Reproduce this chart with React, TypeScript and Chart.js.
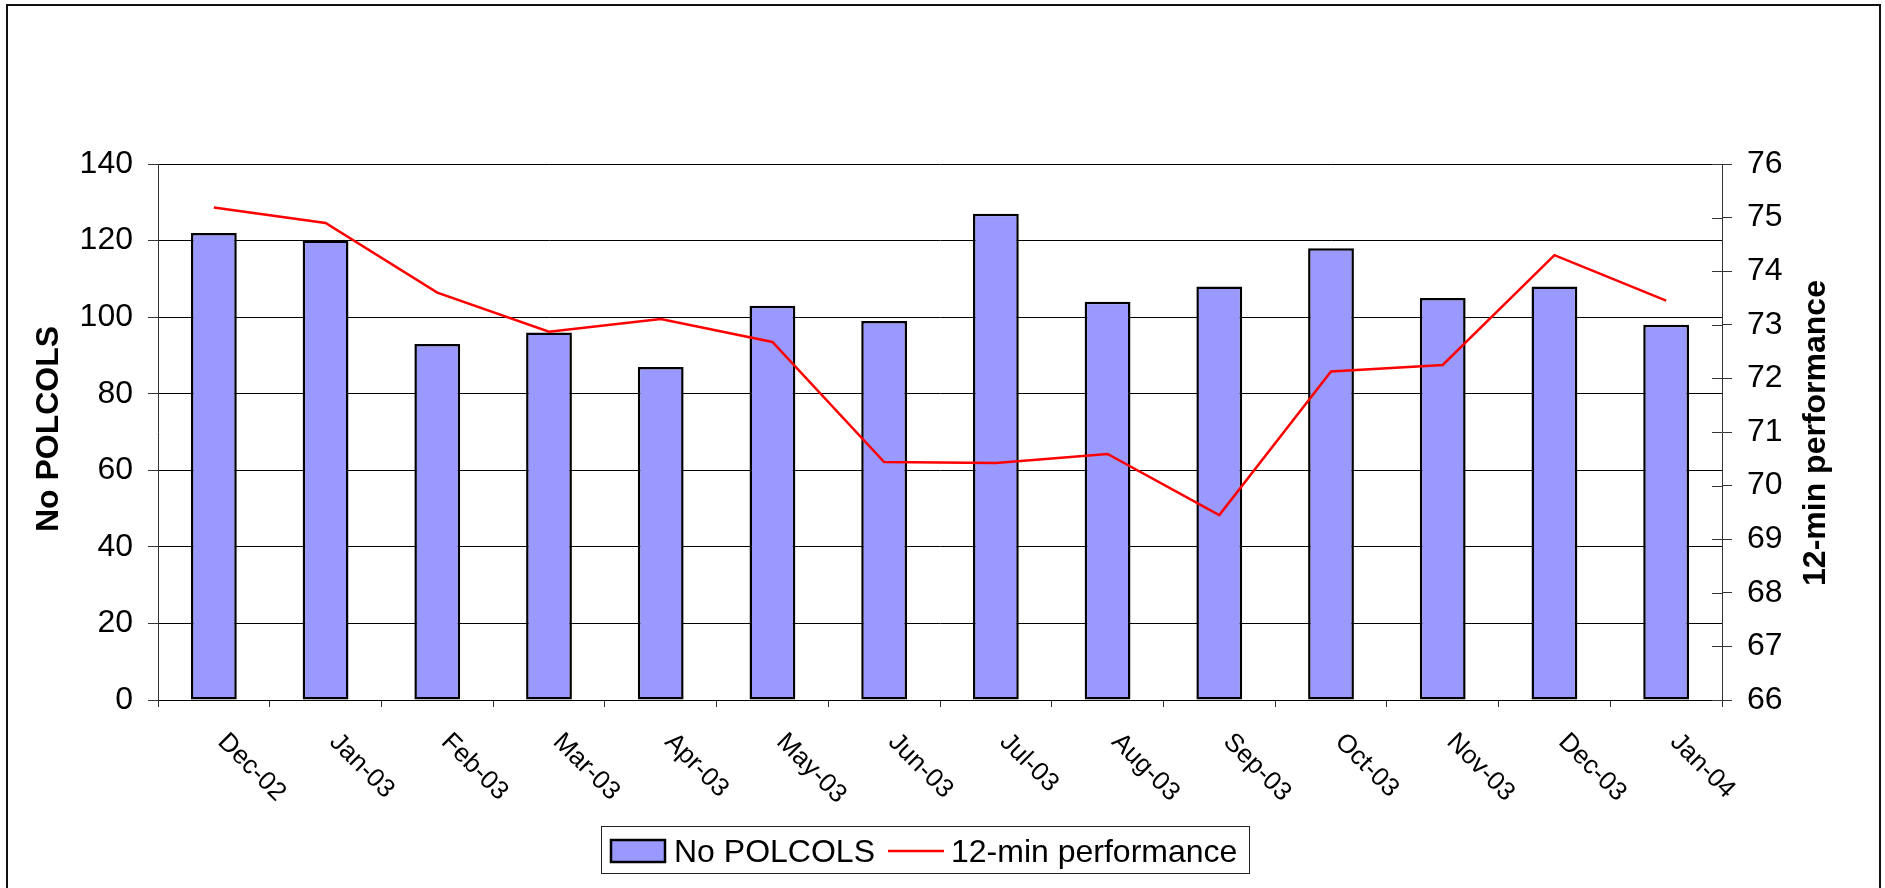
import React, { useEffect, useRef } from "react";
import { Chart, registerables } from "chart.js";

Chart.register(...registerables);

// ---- data ----
const months: string[] = [
  "Dec-02", "Jan-03", "Feb-03", "Mar-03", "Apr-03", "May-03", "Jun-03",
  "Jul-03", "Aug-03", "Sep-03", "Oct-03", "Nov-03", "Dec-03", "Jan-04",
];
const polcols: number[] = [122, 120, 93, 96, 87, 103, 99, 127, 104, 108, 118, 105, 108, 98];
const performance: number[] = [
  75.19, 74.9, 73.6, 72.87, 73.11, 72.68, 70.44, 70.42, 70.59, 69.45, 72.13, 72.25, 74.3, 73.45,
];
const leftAxis = { min: 0, max: 140, step: 20 };
const rightAxis = { min: 66, max: 76, step: 1 };
const barLabel = "No POLCOLS";
const lineLabel = "12-min performance";
const leftTitle = "No POLCOLS";
const rightTitle = "12-min performance";

const FONT = '"Liberation Sans", Arial, Helvetica, sans-serif';
const BAR_FILL = "#9999FF";
const LINE_RED = "#FF0000";

const W = 1885;
const H = 888;

const extrasPlugin = {
  id: "extras",
  afterDraw(chart: any) {
    const { ctx } = chart;
    const x = chart.scales.x;
    const y1 = chart.scales.y1;
    const area = chart.chartArea;
    ctx.save();

    // right axis inner tick marks (cross ticks)
    ctx.strokeStyle = "#333";
    ctx.lineWidth = 1;
    y1.ticks.forEach((t: any) => {
      const py = Math.round(y1.getPixelForValue(t.value)) + 0.5;
      ctx.beginPath();
      ctx.moveTo(area.right - 10, py);
      ctx.lineTo(area.right, py);
      ctx.stroke();
    });

    // x labels rotated 45deg clockwise
    ctx.fillStyle = "#000";
    ctx.font = `26px ${FONT}`;
    ctx.textAlign = "left";
    ctx.textBaseline = "alphabetic";
    months.forEach((m, i) => {
      const px = x.getPixelForValue(i);
      ctx.save();
      ctx.translate(px + 3, area.bottom + 43);
      ctx.rotate(Math.PI / 4);
      ctx.fillText(m, 0, 0);
      ctx.restore();
    });

    // axis titles (both read bottom-to-top)
    const midY = (area.top + area.bottom) / 2;
    ctx.font = `bold 32px ${FONT}`;
    ctx.textAlign = "center";
    ctx.textBaseline = "alphabetic";
    ctx.save();
    ctx.translate(58, midY - 3);
    ctx.rotate(-Math.PI / 2);
    ctx.fillText(leftTitle, 0, 0);
    ctx.restore();
    ctx.save();
    ctx.translate(1825, midY + 1);
    ctx.rotate(-Math.PI / 2);
    ctx.fillText(rightTitle, 0, 0);
    ctx.restore();

    // legend
    const lx = 601.5, ly = 826.5, lw = 648, lh = 47;
    ctx.strokeStyle = "#222";
    ctx.lineWidth = 1;
    ctx.strokeRect(lx, ly, lw, lh);
    // bar swatch
    ctx.fillStyle = BAR_FILL;
    ctx.fillRect(611, 840, 54, 22);
    ctx.strokeStyle = "#000";
    ctx.lineWidth = 2.5;
    ctx.strokeRect(611, 840, 54, 22);
    // text 1
    ctx.fillStyle = "#000";
    ctx.font = `32px ${FONT}`;
    ctx.textAlign = "left";
    ctx.textBaseline = "alphabetic";
    ctx.fillText(barLabel, 674, 862);
    // line swatch
    ctx.strokeStyle = LINE_RED;
    ctx.lineWidth = 2.5;
    ctx.beginPath();
    ctx.moveTo(888, 851);
    ctx.lineTo(944, 851);
    ctx.stroke();
    ctx.fillText(lineLabel, 951, 862);

    ctx.restore();
  },
};

export default function App() {
  const canvasRef = useRef<HTMLCanvasElement | null>(null);

  useEffect(() => {
    const canvas = canvasRef.current;
    if (!canvas) return;
    const chart = new Chart(canvas, {
      type: "bar",
      data: {
        labels: months,
        datasets: [
          {
            type: "line",
            label: lineLabel,
            data: performance,
            yAxisID: "y1",
            borderColor: LINE_RED,
            backgroundColor: LINE_RED,
            borderWidth: 2.5,
            pointRadius: 0,
            tension: 0,
            order: 0,
          } as any,
          {
            type: "bar",
            label: barLabel,
            data: polcols,
            yAxisID: "y",
            backgroundColor: BAR_FILL,
            borderColor: "#000",
            borderWidth: 2.5,
            borderSkipped: false,
            categoryPercentage: 1,
            barPercentage: 0.41,
            order: 1,
          } as any,
        ],
      },
      options: {
        responsive: false,
        animation: false,
        devicePixelRatio: 1,
        layout: { padding: { top: 164, left: 0, right: 0, bottom: 0 } },
        plugins: {
          legend: { display: false },
          tooltip: { enabled: false },
          title: { display: false },
        },
        scales: {
          x: {
            type: "category",
            offset: true,
            grid: {
              offset: true,
              drawOnChartArea: false,
              drawTicks: true,
              tickLength: 7,
              color: "#333",
            },
            border: { display: true, color: "#000", width: 1 },
            ticks: { display: false },
            afterFit: (s: any) => {
              s.height = H - 700;
            },
          },
          y: {
            position: "left",
            min: leftAxis.min,
            max: leftAxis.max,
            ticks: {
              stepSize: leftAxis.step,
              color: "#000",
              padding: 15,
              font: { family: FONT, size: 32 },
            },
            grid: {
              color: "#000",
              tickColor: "#333",
              tickLength: 10,
              drawOnChartArea: true,
            },
            border: { display: true, color: "#333", width: 1 },
            afterFit: (s: any) => {
              s.width = 158;
            },
          },
          y1: {
            position: "right",
            min: rightAxis.min,
            max: rightAxis.max,
            ticks: {
              stepSize: rightAxis.step,
              color: "#000",
              padding: 15,
              font: { family: FONT, size: 32 },
            },
            grid: {
              drawOnChartArea: false,
              tickColor: "#333",
              tickLength: 10,
            },
            border: { display: true, color: "#333", width: 1 },
            afterFit: (s: any) => {
              s.width = W - 1722;
            },
          },
        },
      } as any,
      plugins: [extrasPlugin],
    });
    return () => chart.destroy();
  }, []);

  return (
    <div style={{ position: "fixed", left: 0, top: 0, width: W, height: H, background: "#fff", overflow: "hidden" }}>
      <canvas
        ref={canvasRef}
        width={W}
        height={H}
        style={{ position: "absolute", left: 0, top: 0, width: W, height: H, display: "block" }}
      />
      <div
        style={{
          position: "absolute",
          left: 6,
          top: 4,
          width: 1875,
          height: 1000,
          border: "2px solid #111",
          boxSizing: "border-box",
          pointerEvents: "none",
        }}
      />
    </div>
  );
}
